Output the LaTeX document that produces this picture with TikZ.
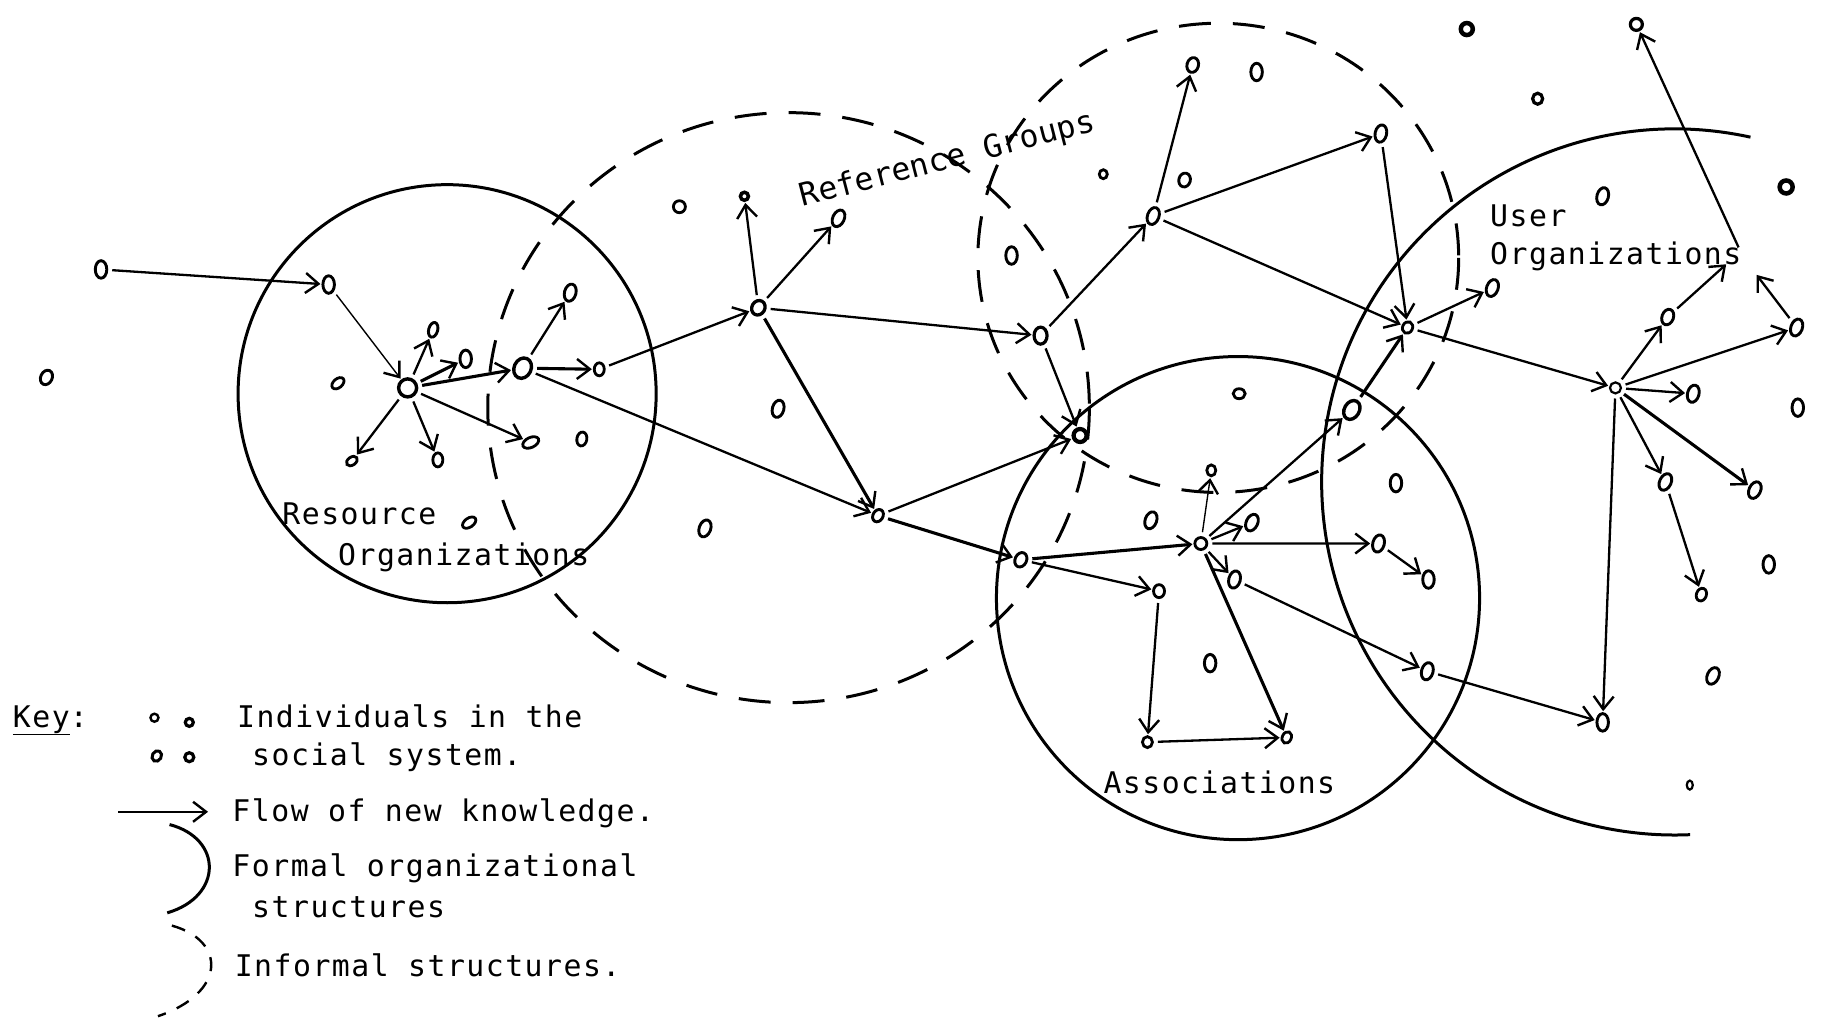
\documentclass[tikz,border=0pt]{standalone}
\usepackage{fontspec}
\newfontfamily\tw{DejaVu Sans Mono}[LetterSpace=5]
\newfontfamily\twr{DejaVu Sans Mono}
\usetikzlibrary{shapes.geometric,arrows.meta}
\tikzset{
  O/.style={draw, ellipse, line width=2.9pt, inner sep=0pt, minimum width=11.5pt, minimum height=17.5pt},
  oo/.style={draw, ellipse, line width=2.8pt, inner sep=0pt, minimum width=10pt, minimum height=11pt},
  bo/.style={draw, circle, line width=4.5pt, inner sep=0pt, minimum size=11pt},
  hub/.style={draw, circle, line width=3.4pt, inner sep=0pt, minimum size=18pt},
  fl/.style={line width=2.3pt, -{Straight Barb[length=13pt,width=20pt,line width=2.4pt]}, shorten <=4pt, shorten >=1pt},
  flt/.style={fl, line width=3.1pt},
  formal/.style={line width=3pt},
  informal/.style={line width=3pt, dash pattern=on 32pt off 22pt},
  lbl/.style={font=\tw\fontsize{29.8pt}{34pt}\selectfont, inner sep=0pt, anchor=base west}
}
\begin{document}
\begin{tikzpicture}[x=1.1614pt, y=-1.1614pt]
\useasboundingbox (0,0) rectangle (1568,878);
\fill[white] (0,0) rectangle (1568,878);

% structures
\draw[formal] (385,339) circle [radius=180];
\draw[formal] (1066,515) circle [radius=208];
\draw[formal] (1442,415) ++(-77.6:304) arc[start angle=-77.6, end angle=-272.5, radius=304];
\draw[informal] (679,351) ellipse [x radius=259, y radius=254];
\draw[informal] (1049,222) ellipse [x radius=207, y radius=202];

% individuals
\node[O] (n1) at (87,232) {};
\node[O, minimum height=15pt, rotate=-25] (n2) at (40,325) {};
\node[O] (a1) at (283,245) {};
\node[hub] (h1) at (351,334) {};
\node[O, minimum width=9pt, minimum height=15pt, rotate=-15] (n5) at (373,284) {};
\node[O] (n6) at (401,309) {};
\node[hub, ellipse, minimum width=17pt, minimum height=21pt, rotate=-25] (h2) at (450,317) {};
\node[O, rotate=-15] (n8) at (491,252) {};
\node[oo, minimum height=13pt] (n9) at (516,318) {};
\node[oo, minimum width=14pt, minimum height=9pt, rotate=40] (n10) at (291,330) {};
\node[oo, minimum width=12pt, minimum height=8pt, rotate=35] (n11) at (303,397) {};
\node[oo, minimum height=14pt] (n12) at (377,396) {};
\node[oo, minimum width=17pt, minimum height=10pt, rotate=25] (n13) at (457,381) {};
\node[oo, minimum height=14pt, rotate=-10] (n14) at (501,378) {};
\node[oo, minimum width=15pt, minimum height=9pt, rotate=35] (n15) at (404,450) {};

\node[oo, minimum size=12pt] (n16) at (585,178) {};
\node[bo, minimum size=8pt, line width=3.5pt] (n17) at (641,169) {};
\node[O, minimum width=13pt, minimum height=15pt, rotate=-30, line width=3.3pt] (r1) at (653,265) {};
\node[O, rotate=-25] (n19) at (722,188) {};
\node[O, rotate=-15] (n20) at (670,352) {};
\node[O, rotate=-20] (n21) at (607,455) {};
\node[O, minimum width=10pt, minimum height=13pt, rotate=-30] (r2) at (756,444) {};
\node[O, minimum width=13pt, minimum height=17pt, line width=3.2pt] (g1) at (896,289) {};
\node[bo, minimum size=13pt, line width=4.2pt] (g2) at (930,375) {};
\node[O] (n24) at (871,220) {};
\node[oo, minimum width=8pt, minimum height=9pt] (n25) at (950,150) {};
\node[O, minimum height=14pt, rotate=-15] (n26) at (1020,155) {};
\node[O, rotate=-20] (g3) at (993,186) {};
\node[O, minimum height=15pt, rotate=-15] (n28) at (1027,56) {};
\node[oo, minimum width=12pt, minimum height=10pt] (n29) at (1067,339) {};
\node[O] (n30) at (1082,62) {};
\node[bo, minimum size=12pt] (n31) at (1263,25) {};
\node[oo, line width=3.2pt] (n32) at (1324,85) {};
\node[oo, minimum size=12pt, line width=3.2pt] (n33) at (1409,21) {};
\node[O, rotate=-12] (u1) at (1189,115) {};
\node[O, rotate=-15] (n35) at (1380,169) {};
\node[bo, minimum size=13pt] (n36) at (1538,161) {};
\node[oo, minimum width=10pt, minimum height=12pt, rotate=-25] (u2) at (1212,282) {};
\node[O, rotate=-20] (n38) at (1285,248) {};
\node[O, minimum width=15pt, minimum height=20pt, rotate=-30, line width=3.4pt] (u3) at (1164,353) {};
\node[oo, minimum size=11pt, line width=2.2pt] (u4) at (1391,334) {};
\node[O, minimum height=16pt, rotate=-20] (n40) at (1436,273) {};
\node[O, rotate=-20] (n41) at (1547,282) {};
\node[O, rotate=-15] (n42) at (1458,339) {};
\node[O] (n43) at (1548,351) {};
\node[O, rotate=-25] (n44) at (1434,415) {};
\node[O, rotate=-25] (n45) at (1511,422) {};
\node[O] (n46) at (1523,486) {};
\node[oo, minimum height=13pt, rotate=-20] (n47) at (1465,512) {};
\node[O, rotate=-25] (n48) at (1475,582) {};
\node[oo, minimum width=6pt, minimum height=9pt, line width=2.2pt] (n49) at (1455,676) {};
\node[O] (n50) at (1380,622) {};
\node[O, minimum height=15pt, rotate=-25] (a2) at (879,482) {};
\node[oo, minimum size=12pt, line width=2.8pt] (ah) at (1034,468) {};
\node[oo, minimum width=9pt, minimum height=11pt] (n52) at (1043,405) {};
\node[O, rotate=-20] (n53) at (991,448) {};
\node[O, rotate=-25] (n54) at (1078,450) {};
\node[O, rotate=-15] (n55) at (1063,499) {};
\node[oo, minimum width=11pt, minimum height=13pt] (n56) at (998,509) {};
\node[O] (n57) at (1042,571) {};
\node[oo, minimum width=10pt, minimum height=11pt] (n58) at (988,639) {};
\node[oo, minimum width=9pt, minimum height=12pt, rotate=-25] (n59) at (1108,635) {};
\node[O] (n60) at (1202,416) {};
\node[O, rotate=-15] (n61) at (1187,468) {};
\node[O] (n62) at (1230,499) {};
\node[O, rotate=-15] (n63) at (1229,578) {};

\coordinate (c1) at (1487,227);
\coordinate (c2) at (1512,236);
\coordinate (c3) at (1497,213);

% flows
\draw[fl] (n1) -- (a1);
\draw[fl, line width=1.4pt] (a1) -- (h1);
\draw[fl] (h1) -- (n5);
\draw[flt] (h1) -- (n6);
\draw[flt] (h1) -- (h2);
\draw[fl] (h1) -- (n11);
\draw[fl] (h1) -- (n12);
\draw[fl] (h1) -- (n13);
\draw[fl] (h2) -- (n8);
\draw[flt] (h2) -- (n9);
\draw[fl] (h2) -- (r2);
\draw[fl] (n9) -- (r1);
\draw[fl] (r1) -- (n17);
\draw[fl] (r1) -- (n19);
\draw[fl] (r1) -- (g1);
\draw[flt] (r1) -- (r2);
\draw[fl] (r2) -- (g2);
\draw[flt] (r2) -- (a2);
\draw[fl] (g1) -- (g2);
\draw[fl] (g1) -- (g3);
\draw[fl] (g3) -- (n28);
\draw[fl] (g3) -- (u1);
\draw[fl] (g3) -- (u2);
\draw[fl] (u1) -- (u2);
\draw[fl] (u2) -- (n38);
\draw[fl] (u2) -- (u4);
\draw[flt] (u3) -- (u2);
\draw[fl] (ah) -- (u3);
\draw[flt] (a2) -- (ah);
\draw[fl] (a2) -- (n56);
\draw[fl] (ah) -- (n54);
\draw[fl] (ah) -- (n61);
\draw[fl] (n61) -- (n62);
\draw[fl] (ah) -- (n55);
\draw[fl] (n55) -- (n63);
\draw[fl] (n63) -- (n50);
\draw[flt] (ah) -- (n59);
\draw[fl, line width=1.4pt] (ah) -- (n52);
\draw[fl] (n56) -- (n58);
\draw[fl] (n58) -- (n59);
\draw[fl] (u4) -- (n40);
\draw[fl] (n40) -- (c1);
\draw[fl] (u4) -- (n41);
\draw[fl] (u4) -- (n42);
\draw[fl] (u4) -- (n44);
\draw[flt] (u4) -- (n45);
\draw[fl] (n44) -- (n47);
\draw[fl] (u4) -- (n50);
\draw[fl] (n41) -- (c2);
\draw[fl, shorten <=0pt] (c3) -- (n33);

% labels
\node[lbl] (t1) at (243,452) {Resource};
\node[lbl] (t2) at (291,487) {Organizations};
\node[lbl, font=\twr\fontsize{31.5pt}{36pt}\selectfont, rotate=14.5] (t3) at (691,178) {Reference Groups};
\node[lbl] (t4) at (1283,195) {User};
\node[lbl] (t5) at (1283,228) {Organizations};
\node[lbl] (t6) at (950,683) {Associations};

% key
\node[lbl] (k0) at (11,626) {\underline{Key}:};
\node[oo, minimum size=8pt, line width=2.4pt] (k1) at (133,618) {};
\node[bo, minimum size=8pt, line width=3.2pt] (k2) at (163,622) {};
\node[O, minimum width=9pt, minimum height=11pt, rotate=-30, line width=3pt] (k3) at (135,651) {};
\node[bo, minimum size=9pt, line width=3.2pt] (k4) at (163,652) {};
\node[lbl] (k5) at (204,626) {Individuals in the};
\node[lbl] (k6) at (217,659) {social system.};
\coordinate (ka) at (102,699);
\coordinate (kb) at (180,699);
\draw[fl, shorten <=0pt] (ka) -- (kb);
\node[lbl] (k7) at (200,707) {Flow of new knowledge.};
\draw[formal] (146,710) .. controls (192,722) and (192,772) .. (144,786);
\node[lbl] (k8) at (200,755) {Formal organizational};
\node[lbl] (k9) at (217,790) {structures};
\draw[line width=2.4pt, dash pattern=on 14pt off 12pt] (148,797) .. controls (195,810) and (195,855) .. (136,875);
\node[lbl] (k10) at (202,841) {Informal structures.};
\end{tikzpicture}
\end{document}
